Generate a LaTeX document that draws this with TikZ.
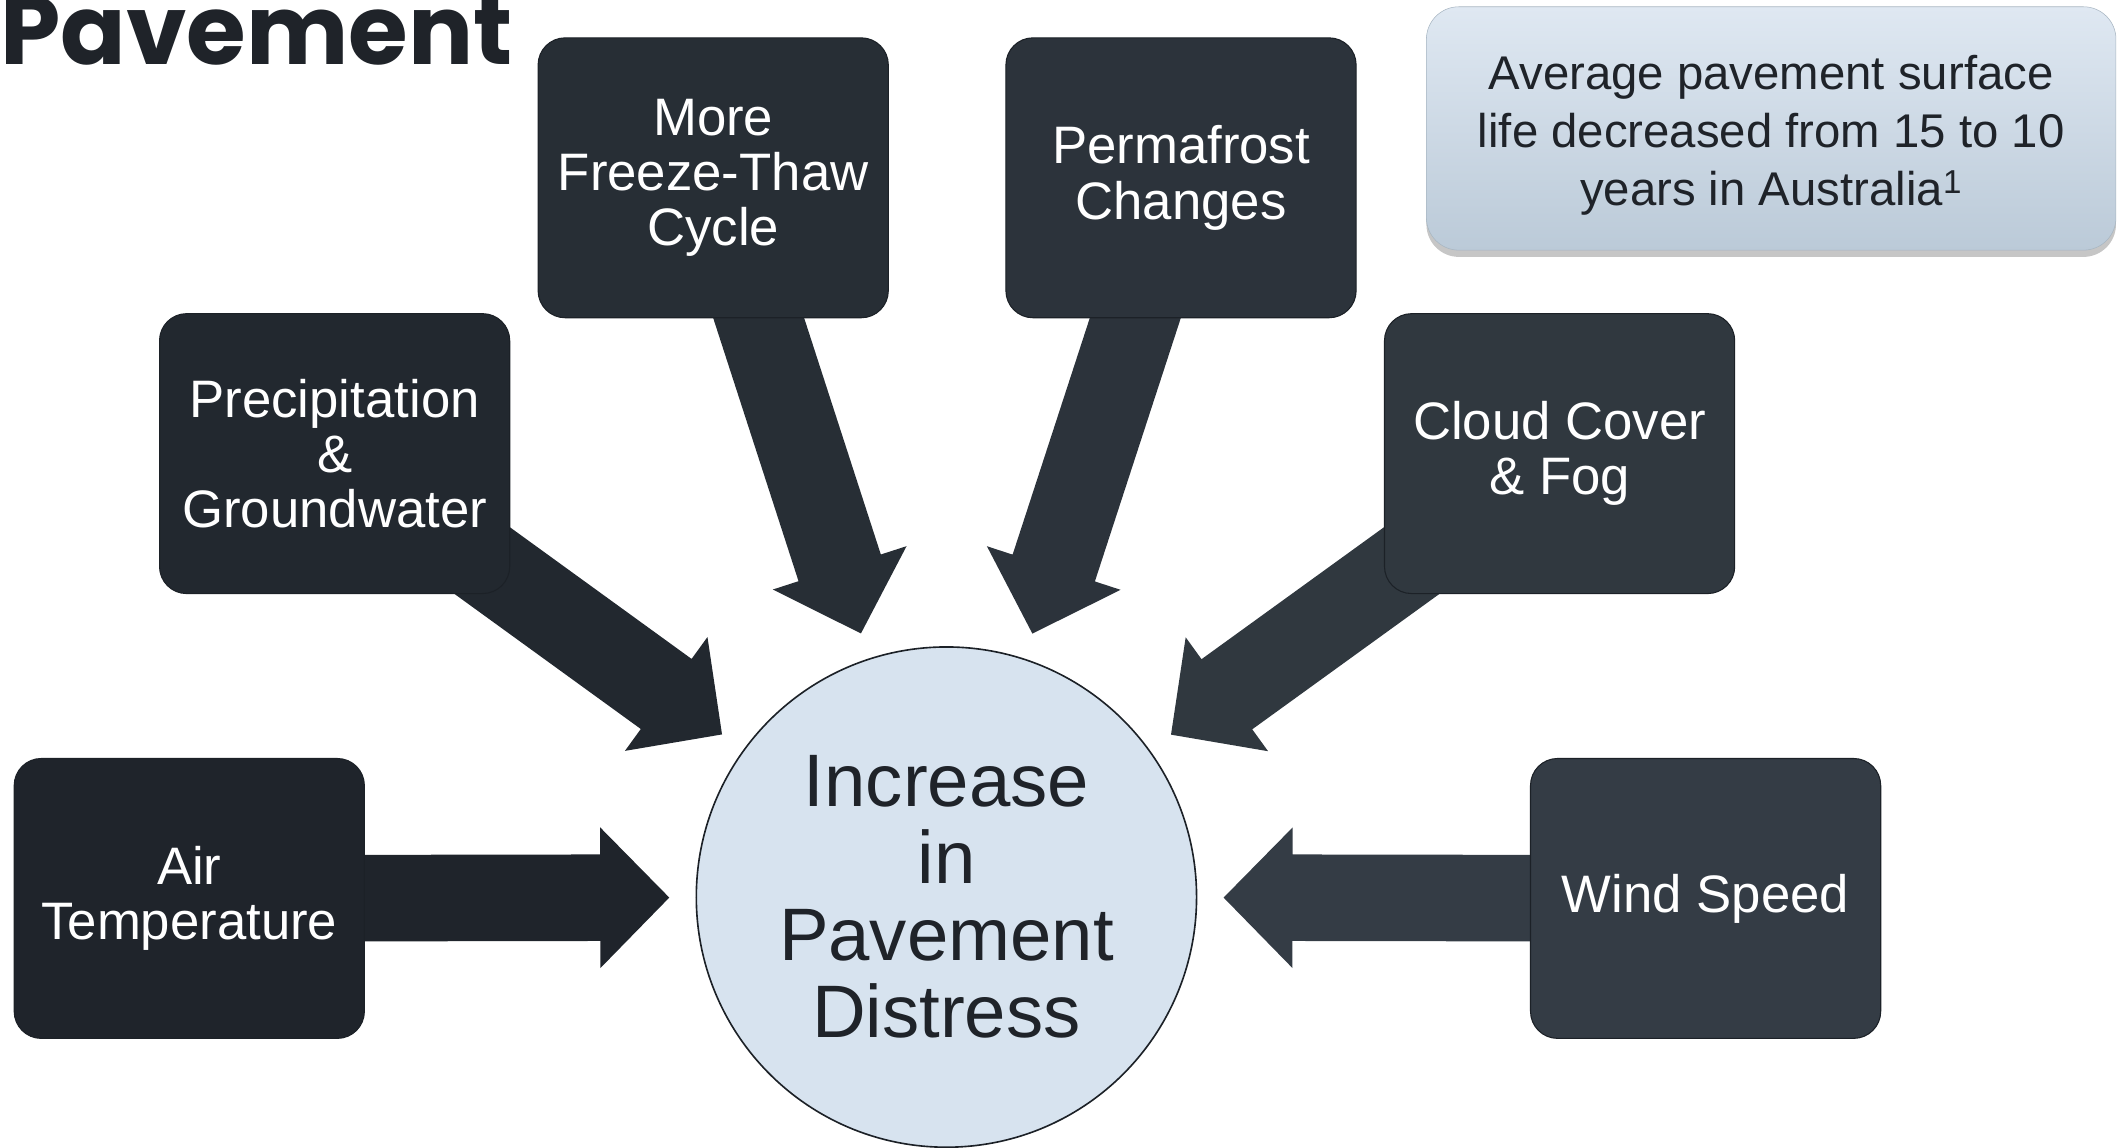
\documentclass[tikz,border=0pt]{standalone}
\usepackage{fontspec}
\setmainfont{Liberation Sans}
\newfontfamily\titlefont{Poppins}
\usetikzlibrary{calc,shadows,backgrounds}
\definecolor{cAir}{HTML}{1F242B}
\definecolor{cPre}{HTML}{22282F}
\definecolor{cFrz}{HTML}{272E35}
\definecolor{cPerm}{HTML}{2C333B}
\definecolor{cCloud}{HTML}{30383F}
\definecolor{cWind}{HTML}{343C45}
\definecolor{edge}{HTML}{1C2127}
\definecolor{ink}{HTML}{1F2329}
\definecolor{circfill}{HTML}{D7E3EF}
\definecolor{infotop}{HTML}{DFE8F2}
\definecolor{infobot}{HTML}{BBCAD8}
\newcommand\blockarrow[3]{%
  \coordinate (T) at ($(#2.center)!205pt!(#1.center)$);
  \coordinate (H) at ($(T)!51pt!(#1.center)$);
  \fill[#3] ($(#1.center)!32pt!90:(T)$) -- ($(H)!32pt!-90:(#1.center)$)
    -- ($(H)!52pt!-90:(#1.center)$) -- (T) -- ($(H)!52pt!90:(#1.center)$)
    -- ($(H)!32pt!90:(#1.center)$) -- ($(#1.center)!32pt!-90:(T)$) -- cycle;}
\tikzset{
  factor/.style={draw=edge, line width=0.8pt, rounded corners=20pt,
    minimum width=259pt, minimum height=207pt, text=white, align=center,
    inner sep=0pt, font=\fontsize{39}{41}\selectfont},
}
\begin{document}
\begin{tikzpicture}[x=1pt,y=-1pt]
\useasboundingbox (0,0) rectangle (1568,849);
\node[anchor=base west, inner sep=0pt, text=ink, font=\titlefont\bfseries\fontsize{71.5}{72}\selectfont] (title) at (0,48) {Pavement};
\node[draw=edge, line width=1.2pt, fill=circfill, circle, minimum size=370pt, inner sep=0pt,
  align=center, text=ink, font=\fontsize{55}{57}\selectfont] (dist) at (700,663.5) {Increase\\in\\Pavement\\Distress};
\node[factor, fill=cAir] (air) at (140,664.5) {Air\\Temperature};
\node[factor, fill=cPre] (pre) at (247.5,335.5) {Precipitation\\\&\\Groundwater};
\node[factor, fill=cFrz] (frz) at (527.5,131.5) {More\\Freeze-Thaw\\Cycle};
\node[factor, fill=cPerm] (perm) at (873.5,131.5) {Permafrost\\Changes};
\node[factor, fill=cCloud] (cloud) at (1153.5,335.5) {Cloud Cover\\\& Fog};
\node[factor, fill=cWind] (wind) at (1261.5,664.5) {Wind Speed};
\begin{pgfonlayer}{background}
\blockarrow{air}{dist}{cAir}
\blockarrow{pre}{dist}{cPre}
\blockarrow{frz}{dist}{cFrz}
\blockarrow{perm}{dist}{cPerm}
\blockarrow{cloud}{dist}{cCloud}
\blockarrow{wind}{dist}{cWind}
\end{pgfonlayer}
\node[rounded corners=24pt, top color=infotop, bottom color=infobot, draw=infobot!90!black, line width=0.4pt,
  minimum width=510pt, minimum height=180pt, inner sep=0pt,
  drop shadow={shadow xshift=0pt, shadow yshift=-5pt, opacity=0.45}] (info) at (1310,95) {};
\node[align=center, text=ink, inner sep=0pt, font=\fontsize{35}{43}\selectfont] (infotext) at (1310,100)
  {Average pavement surface\\life decreased from 15 to 10\\years in Australia\textsuperscript{1}};
\end{tikzpicture}
\end{document}
